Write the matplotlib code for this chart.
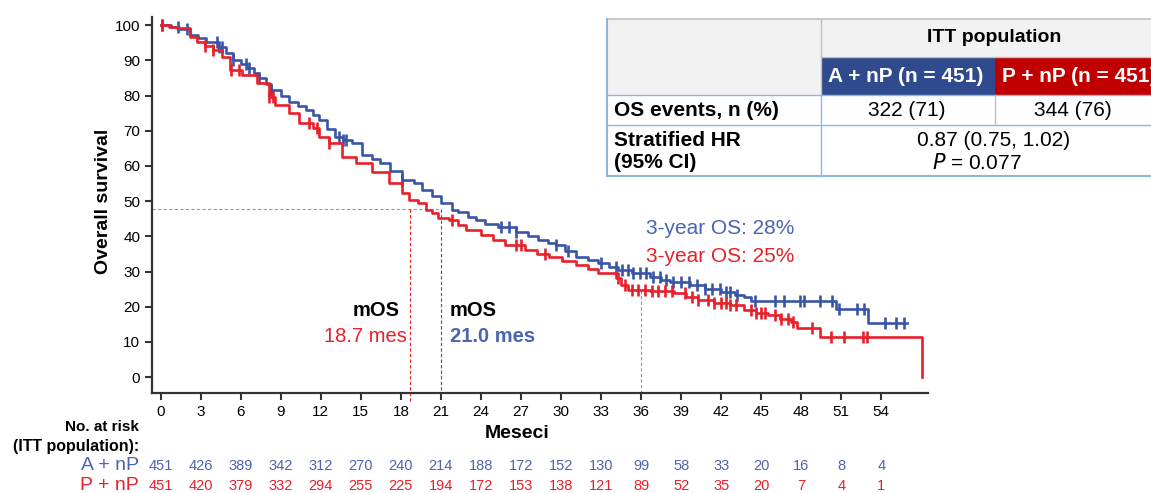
import numpy as np
import matplotlib.pyplot as plt
from matplotlib.patches import Rectangle

plt.rcParams['font.family'] = ['Liberation Sans', 'DejaVu Sans']

# Kaplan-Meier krivulje (odčitano s slike)
t_a = [0, 0.8, 1.4, 2.2, 2.8, 3.4, 4.3, 4.9, 5.4, 6.0, 6.5, 7.0, 7.4, 7.9, 8.3, 9.0, 9.6,
       10.3, 10.9, 11.4, 11.9, 12.5, 13.1, 13.7, 14.3, 15.1, 15.8, 16.4, 17.2, 18.1, 19.0,
       19.6, 20.3, 21.0, 21.8, 22.3, 23.0, 23.6, 24.3, 25.3, 26.6, 27.5, 28.3, 29.0, 29.6,
       30.3, 31.1, 32.0, 32.8, 33.6, 34.3, 35.3, 36.7, 37.5, 38.2, 39.7, 40.8, 42.0, 43.0,
       43.7, 44.2, 50.6, 53.0]
s_a = [100, 99.6, 98.8, 97.2, 96.3, 95.2, 93.8, 92.0, 90.1, 89.0, 87.8, 86.3, 84.9, 83.2, 81.5,
       79.8, 78.2, 77.0, 75.9, 74.5, 73.0, 70.6, 68.3, 67.4, 66.5, 63.1, 62.0, 60.8, 58.5, 56.0,
       55.1, 53.1, 51.5, 49.6, 47.4, 46.9, 45.6, 44.6, 43.6, 42.6, 41.2, 40.0, 38.9, 38.2, 37.5,
       35.8, 34.1, 33.3, 32.4, 31.4, 30.4, 29.5, 28.4, 27.7, 27.0, 26.1, 25.1, 24.1, 23.4, 22.7,
       21.5, 19.5, 15.4]
end_a = 55.9
cens_a = [0.1, 1.3, 2.0, 4.2, 4.4, 4.6, 5.4, 6.4, 6.6, 7.4, 8.3, 13.4, 13.7, 13.9, 18.1, 25.5,
          26.1, 26.6, 29.6, 30.5, 33.0, 34.1, 34.6, 35.0, 35.4, 35.9, 36.4, 36.9, 37.4, 37.9,
          38.4, 39.0, 39.6, 40.2, 40.8, 41.3, 41.9, 42.4, 42.7, 43.2, 44.5, 46.0, 46.7, 47.9,
          48.2, 49.4, 50.3, 50.8, 52.2, 52.7, 54.3, 55.1, 55.7]

t_p = [0, 0.6, 1.2, 2.2, 2.7, 3.3, 3.9, 4.6, 5.2, 6.1, 7.2, 8.1, 8.6, 9.6, 10.4, 11.4, 11.9,
       12.6, 13.6, 14.6, 15.8, 17.1, 18.1, 18.6, 19.3, 19.9, 20.3, 20.8, 21.6, 22.3, 22.9,
       24.0, 24.9, 25.8, 27.3, 28.2, 29.1, 30.1, 31.1, 32.0, 32.8, 34.1, 34.5, 35.0, 36.7,
       38.5, 39.4, 40.3, 41.5, 42.7, 43.7, 44.6, 45.5, 46.4, 47.2, 47.7, 49.4, 57.05]
s_p = [100, 99.6, 99.1, 96.7, 95.3, 94.0, 92.9, 91.0, 87.2, 85.8, 83.5, 79.6, 77.3, 75.0, 72.1,
       70.7, 68.3, 66.5, 62.5, 60.8, 58.2, 55.1, 52.3, 50.3, 49.4, 47.4, 46.6, 45.2, 44.6, 43.2,
       41.8, 40.3, 38.9, 37.5, 36.1, 35.1, 34.1, 33.0, 31.8, 30.6, 29.5, 28.1, 26.1, 24.7, 24.5,
       23.9, 22.9, 21.9, 21.2, 20.5, 19.0, 18.3, 17.6, 16.6, 15.6, 13.9, 11.4, 0]
end_p = 57.05
cens_p = [0.1, 3.3, 3.9, 5.3, 5.9, 8.1, 8.4, 11.1, 11.7, 12.6, 21.8, 26.6, 27.0, 28.8, 34.3,
          34.8, 35.3, 35.8, 36.3, 36.8, 37.3, 37.8, 38.3, 39.3, 39.8, 40.3, 41.0, 41.5, 42.0,
          42.4, 42.7, 43.1, 44.2, 44.6, 45.0, 45.3, 46.0, 46.5, 47.0, 47.4, 48.8, 50.2, 51.2,
          52.6, 52.9]

median_a = 21.0
median_p = 18.7
median_guide = 47.7
os3_a = 28
os3_p = 25

risk_months = list(range(0, 55, 3))
risk_a = [451, 426, 389, 342, 312, 270, 240, 214, 188, 172, 152, 130, 99, 58, 33, 20, 16, 8, 4]
risk_p = [451, 420, 379, 332, 294, 255, 225, 194, 172, 153, 138, 121, 89, 52, 35, 20, 7, 4, 1]

blue = '#3A55A8'
blue_txt = '#4A64B4'
red = '#E8202A'
W, H = 1151, 493

fig = plt.figure(figsize=(W / 100, H / 100), dpi=100)
ax = fig.add_axes([152 / W, 1 - 393 / H, 776 / W, 376 / H])


def step_value(t, s, x):
    idx = np.searchsorted(t, x, side='right') - 1
    return np.asarray(s)[idx]


for t, s, end, cens, col in [(t_a, s_a, end_a, cens_a, blue), (t_p, s_p, end_p, cens_p, red)]:
    tt = np.append(t, end)
    ss = np.append(s, s[-1])
    ax.step(tt, ss, where='post', color=col, lw=1.9, zorder=3)
    ax.plot(cens, step_value(t, s, cens), ls='none', marker='|', ms=9, mew=1.9,
            color=col, zorder=3)

# pomožne črte za mediano in 3 leta
ax.plot([-0.65, median_a], [median_guide, median_guide], ls=(0, (3, 2)), color='#999999', lw=0.8)
ax.plot([median_p, median_p], [median_guide, -7], ls=(0, (3, 2)), color=red, lw=0.8, clip_on=False)
ax.plot([median_a, median_a], [median_guide, -5], ls=(0, (3, 2)), color=blue, lw=0.8, clip_on=False)
ax.plot([36, 36], [step_value(t_p, s_p, 36.0), -5], ls=(0, (3, 2)), color='#999999', lw=0.8,
        clip_on=False)

ax.set_xlim(-0.65, 57.5)
ax.set_ylim(-4.5, 102.3)
ax.set_xticks(risk_months)
ax.set_yticks(range(0, 101, 10))
ax.tick_params(labelsize=11, width=1.5, length=5, color='#333333')
ax.tick_params(axis='x', pad=4)
for side in ['top', 'right']:
    ax.spines[side].set_visible(False)
for side in ['left', 'bottom']:
    ax.spines[side].set_linewidth(1.6)
    ax.spines[side].set_color('#333333')

fig.text(103 / W, 1 - 201 / H, 'Overall survival', rotation=90, fontsize=14,
         fontweight='bold', ha='center', va='center')
fig.text(517 / W, 1 - 433 / H, 'Meseci', fontsize=14, fontweight='bold', ha='center', va='center')

# oznake
fig.text(646 / W, 1 - 229 / H, f'3-year OS: {os3_a}%', color=blue_txt, fontsize=15, va='center')
fig.text(646 / W, 1 - 257 / H, f'3-year OS: {os3_p}%', color=red, fontsize=15, va='center')
fig.text(400 / W, 1 - 311 / H, 'mOS', fontsize=14.5, fontweight='bold', ha='right', va='center')
fig.text(407 / W, 1 - 337 / H, f'{median_p} mes', fontsize=14.5, color=red, ha='right', va='center')
fig.text(450 / W, 1 - 311 / H, 'mOS', fontsize=14.5, fontweight='bold', ha='left', va='center')
fig.text(450 / W, 1 - 337 / H, f'{median_a} mes', fontsize=14.5, fontweight='bold', color=blue_txt,
         ha='left', va='center')

# tabela števila ogroženih
fig.text(139 / W, 1 - 427 / H, 'No. at risk', fontsize=11, fontweight='bold', ha='right', va='center')
fig.text(139 / W, 1 - 447 / H, '(ITT population):', fontsize=11.5, fontweight='bold', ha='right',
         va='center')
fig.text(139 / W, 1 - 466 / H, 'A + nP', fontsize=14, color=blue_txt, ha='right', va='center')
fig.text(139 / W, 1 - 486 / H, 'P + nP', fontsize=14, color=red, ha='right', va='center')
xt = ax.get_xaxis_transform()
for m, a, p in zip(risk_months, risk_a, risk_p):
    ax.text(m, (393 - 466) / 376, str(a), transform=xt, ha='center', va='center', fontsize=10.5,
            color=blue_txt, clip_on=False)
    ax.text(m, (393 - 486) / 376, str(p), transform=xt, ha='center', va='center', fontsize=10.5,
            color=red, clip_on=False)

# tabela z rezultati (v pikslih)
tb = fig.add_axes([0, 0, 1, 1], zorder=5)
tb.set_xlim(0, W)
tb.set_ylim(H, 0)
tb.axis('off')
edge = '#8DB4E2'
tb.add_patch(Rectangle((607, 19), 214, 76, facecolor='#F2F2F2', edgecolor='none'))
tb.add_patch(Rectangle((821, 19), 340, 38, facecolor='#F2F2F2', edgecolor='none'))
tb.add_patch(Rectangle((821, 57), 174, 38, facecolor='#2F4B8E', edgecolor='none'))
tb.add_patch(Rectangle((995, 57), 170, 38, facecolor='#C00000', edgecolor='none'))
tb.plot([607, 1151], [19, 19], color='#BFBFBF', lw=1.2)
tb.plot([821, 1151], [57, 57], color='#BFBFBF', lw=1)
tb.plot([607, 1151], [95, 95], color=edge, lw=1)
tb.plot([607, 1151], [125, 125], color=edge, lw=1)
tb.plot([607, 1151], [176, 176], color=edge, lw=1.5)
tb.plot([607, 607], [19, 176], color=edge, lw=1.5)
tb.plot([821, 821], [19, 95], color='#BFBFBF', lw=1)
tb.plot([821, 821], [95, 176], color=edge, lw=1)
tb.plot([995, 995], [95, 125], color='#BFBFBF', lw=1)
tb.text(994, 38, 'ITT population', fontsize=14, fontweight='bold', ha='center', va='center')
tb.text(906, 77, 'A + nP (n = 451)', fontsize=15, fontweight='bold', color='white',
        ha='center', va='center')
tb.text(1002, 77, 'P + nP (n = 451)', fontsize=15, fontweight='bold', color='white',
        ha='left', va='center')
tb.text(614, 110, 'OS events, n (%)', fontsize=15, fontweight='bold', ha='left', va='center')
tb.text(907, 110, '322 (71)', fontsize=15, ha='center', va='center')
tb.text(1073, 110, '344 (76)', fontsize=15, ha='center', va='center')
tb.text(614, 141, 'Stratified HR', fontsize=15, fontweight='bold', ha='left', va='center')
tb.text(614, 163, '(95% CI)', fontsize=15, fontweight='bold', ha='left', va='center')
tb.text(994, 141, '0.87 (0.75, 1.02)', fontsize=15, ha='center', va='center')
tb.text(977, 163, '$\\it{P}$ = 0.077', fontsize=15, ha='center', va='center')

fig.savefig('out.png', dpi=100)
